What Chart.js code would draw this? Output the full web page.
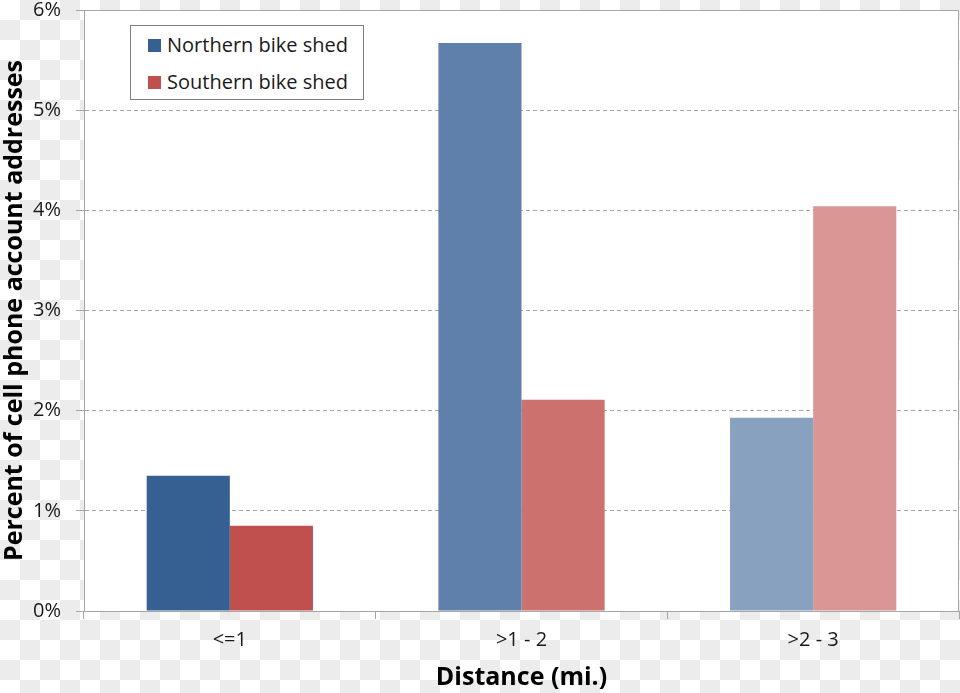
<!DOCTYPE html>
<html>
<head>
<meta charset="utf-8">
<script src="https://cdn.jsdelivr.net/npm/chart.js@4/dist/chart.umd.min.js"></script>
<style>
    html, body {
        margin: 0;
        padding: 0;
    }
    body {
        width: 960px;
        height: 693px;
        overflow: hidden;
        background: repeating-conic-gradient(#ececec 0 25%, #ffffff 0 50%) 0 0 / 40px 40px;
        font-family: 'Open Sans', sans-serif;
    }
    #wrap {
        position: relative;
        width: 960px;
        height: 693px;
    }
    #legend {
        position: absolute;
        left: 130px;
        top: 25px;
        width: 232px;
        height: 73px;
        background: #fff;
        border: 1px solid #7f7f7f;
        box-sizing: content-box;
    }
    .item {
        position: absolute;
        left: 17px;
        font-size: 20px;
        line-height: 22px;
        color: #1a1a1a;
        white-space: nowrap;
    }
    .swatch {
        display: inline-block;
        width: 13px;
        height: 13px;
        margin-right: 6px;
        vertical-align: 0px;
    }
</style>
</head>
<body>
<div id="wrap">
    <canvas id="distanceChart" width="960" height="693"></canvas>
    <div id="legend"></div>
</div>
<script>
// ===================================
// Cell phone account addresses by distance
// ===================================

const categories = ['<=1', '>1 - 2', '>2 - 3'];
const seriesNames = ['Northern bike shed', 'Southern bike shed'];
const northernValues = [1.35, 5.67, 1.93];
const southernValues = [0.85, 2.11, 4.04];
const northernColors = ['#376092', '#5f80ab', '#87a1bf'];
const southernColors = ['#c0504d', '#cd716f', '#d99694'];
const yTicks = [0, 1, 2, 3, 4, 5, 6];

const axisGrey = '#a6a6a6';

// Plot area: white fill + top/right frame
const plotFrame = {
    id: 'plotFrame',
    beforeDraw(chart) {
        const a = chart.chartArea;
        const ctx = chart.ctx;
        ctx.save();
        ctx.fillStyle = '#ffffff';
        ctx.fillRect(a.left, a.top, a.right - a.left, a.bottom - a.top);
        ctx.restore();
    },
    afterDraw(chart) {
        const a = chart.chartArea;
        const ctx = chart.ctx;
        ctx.save();
        ctx.strokeStyle = axisGrey;
        ctx.lineWidth = 1;
        ctx.beginPath();
        ctx.moveTo(a.left, a.top + 0.5);
        ctx.lineTo(a.right - 0.5, a.top + 0.5);
        ctx.lineTo(a.right - 0.5, a.bottom);
        ctx.stroke();
        ctx.restore();
    }
};

const distanceChart = new Chart(document.getElementById('distanceChart'), {
    type: 'bar',
    data: {
        labels: categories,
        datasets: [
            {
                label: seriesNames[0],
                data: northernValues,
                backgroundColor: northernColors,
                borderWidth: 0
            },
            {
                label: seriesNames[1],
                data: southernValues,
                backgroundColor: southernColors,
                borderWidth: 0
            }
        ]
    },
    options: {
        responsive: false,
        animation: false,
        devicePixelRatio: 1,
        layout: {
            padding: { top: 10, right: 1, left: 0, bottom: 0 }
        },
        datasets: {
            bar: {
                categoryPercentage: 0.57,
                barPercentage: 1
            }
        },
        plugins: {
            legend: { display: false },
            tooltip: { enabled: false }
        },
        scales: {
            x: {
                grid: {
                    display: true,
                    drawOnChartArea: false,
                    drawTicks: true,
                    tickLength: 8,
                    color: axisGrey,
                    offset: true
                },
                border: { color: axisGrey },
                ticks: {
                    color: '#1a1a1a',
                    padding: 9,
                    font: { family: 'Open Sans', size: 20 }
                },
                title: {
                    display: true,
                    text: 'Distance (mi.)',
                    color: '#000',
                    padding: { top: 0, bottom: 0 },
                    font: { family: 'Open Sans', size: 25, weight: 'bold' }
                },
                afterFit(scale) {
                    scale.height = 82;
                    scale.paddingLeft = 0;
                    scale.paddingRight = 0;
                }
            },
            y: {
                min: 0,
                max: 6,
                afterBuildTicks(scale) {
                    scale.ticks = yTicks.map(v => ({ value: v }));
                },
                grid: {
                    color: axisGrey,
                    tickColor: axisGrey,
                    tickLength: 8,
                    tickBorderDash: []
                },
                border: {
                    color: axisGrey,
                    dash: [4, 3]
                },
                ticks: {
                    color: '#1a1a1a',
                    padding: 15,
                    font: { family: 'Open Sans', size: 20 },
                    callback: function(value) {
                        return value + '%';
                    }
                },
                title: {
                    display: true,
                    text: 'Percent of cell phone account addresses',
                    color: '#000',
                    padding: { top: 0, bottom: 0 },
                    font: { family: 'Open Sans', size: 25, weight: 'bold' }
                },
                afterFit(scale) {
                    scale.width = 84;
                    scale.paddingTop = 0;
                    scale.paddingBottom = 0;
                }
            }
        }
    },
    plugins: [plotFrame]
});

// Legend (boxed, inside plot area)
function buildLegend() {
    const legend = document.getElementById('legend');
    const swatches = [northernColors[0], southernColors[0]];
    seriesNames.forEach((name, i) => {
        const item = document.createElement('div');
        item.className = 'item';
        item.style.top = (8 + i * 37) + 'px';
        item.innerHTML = `<span class="swatch" style="background:${swatches[i]}"></span>${name}`;
        legend.appendChild(item);
    });
}

buildLegend();
</script>
</body>
</html>
